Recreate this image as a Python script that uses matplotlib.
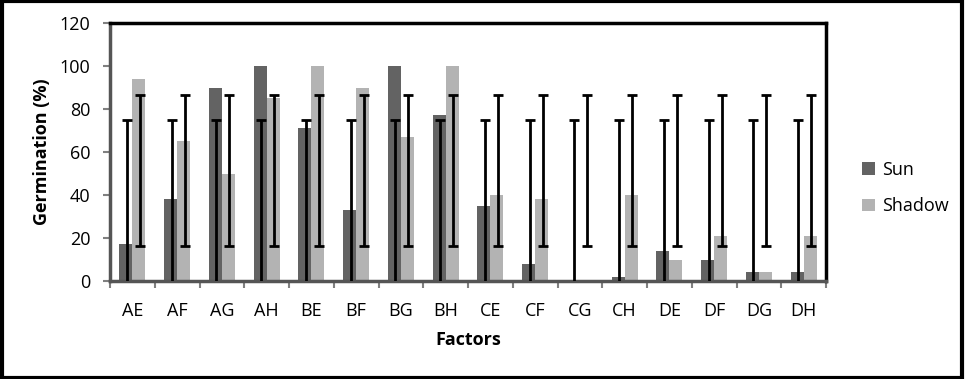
import matplotlib
matplotlib.use("Agg")
import matplotlib.pyplot as plt
from matplotlib.patches import Rectangle
import numpy as np

categories = ["AE", "AF", "AG", "AH", "BE", "BF", "BG", "BH",
              "CE", "CF", "CG", "CH", "DE", "DF", "DG", "DH"]
sun = [17, 38, 90, 100, 71, 33, 100, 77, 35, 8, 0, 2, 14, 10, 4, 4]
shadow = [94, 65, 50, 85, 100, 90, 67, 100, 40, 38, 0, 40, 10, 21, 4, 21]
sun_err_center = 36.5
sun_err = 38.5
shadow_err_center = 51.5
shadow_err = 35.0
yticks = [0, 20, 40, 60, 80, 100, 120]

plt.rcParams['font.family'] = ['Open Sans', 'DejaVu Sans']

W, H = 965, 379
fig = plt.figure(figsize=(W / 100, H / 100), dpi=100)
ax = fig.add_axes([110 / W, 1 - 281 / H, (826 - 110) / W, (281 - 23) / H])

x = np.arange(len(categories))
bw = 0.29
sun_color = "#636363"
shadow_color = "#b3b3b3"
ax.bar(x - bw / 2, sun, bw, color=sun_color, label="Sun", zorder=2)
ax.bar(x + bw / 2, shadow, bw, color=shadow_color, label="Shadow", zorder=2)

ax.errorbar(x - bw / 2 + 0.02, [sun_err_center] * len(x), yerr=sun_err, fmt="none",
            ecolor="black", elinewidth=2, capsize=3.4, capthick=2, zorder=3)
ax.errorbar(x + bw / 2 + 0.02, [shadow_err_center] * len(x), yerr=shadow_err, fmt="none",
            ecolor="black", elinewidth=2, capsize=3.4, capthick=2, zorder=3)

ax.set_xlim(-0.5, len(categories) - 0.5)
ax.set_ylim(0, 120)
ax.set_yticks(yticks)
ax.set_yticklabels([str(v) for v in yticks], fontsize=13)
ax.set_xticks(x)
ax.set_xticklabels(categories, fontsize=13)
ax.tick_params(axis="x", length=0, pad=15)
ax.set_xticks(np.arange(len(categories) + 1) - 0.5, minor=True)
ax.tick_params(axis="x", which="minor", length=5, width=1.5, color="#808080")
ax.tick_params(axis="y", length=5, width=1.5, color="#808080", pad=9)

for s in ["top", "right"]:
    ax.spines[s].set_color("black")
    ax.spines[s].set_linewidth(2.5)
for s in ["left", "bottom"]:
    ax.spines[s].set_color("#555555")
    ax.spines[s].set_linewidth(2.5)

ax.set_ylabel("Germination (%)", fontsize=13, fontweight="bold", labelpad=6)
ax.set_xlabel("Factors", fontsize=13, fontweight="bold", labelpad=8)

ax.legend(loc="center left", bbox_to_anchor=(1.0, 0.36), frameon=False,
          fontsize=13, handlelength=0.7, handleheight=0.7, labelspacing=1.0,
          borderaxespad=1.6, handletextpad=0.4)

fig.patches.append(Rectangle((0.002, 0.003), 0.995, 0.994, transform=fig.transFigure,
                             fill=False, edgecolor="black", linewidth=3))

fig.savefig("out.png", dpi=100)
